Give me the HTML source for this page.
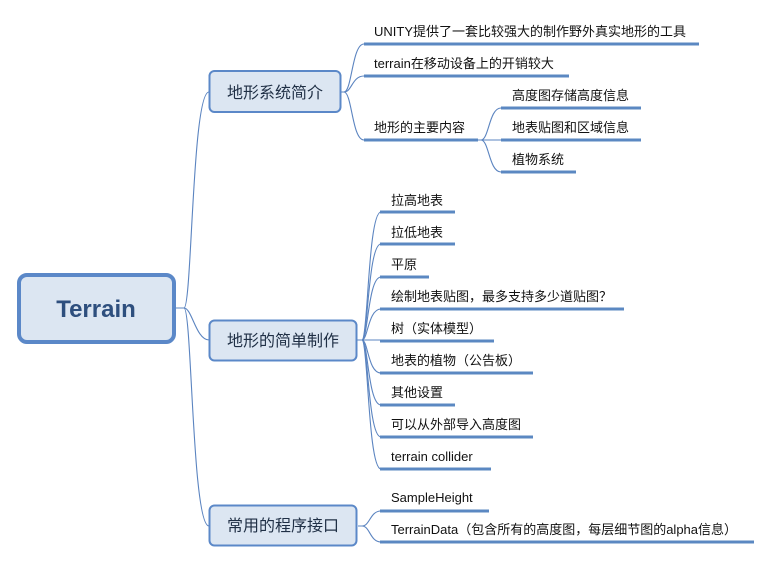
<!DOCTYPE html>
<html><head><meta charset="utf-8"><style>
html,body{margin:0;padding:0;background:#fff;}
svg{display:block;}
text{font-family:"Liberation Sans","Noto Sans CJK SC",sans-serif;fill:#111;}
</style></head><body>
<svg width="772" height="563" viewBox="0 0 772 563" xmlns="http://www.w3.org/2000/svg">
<g fill="none" stroke="#5b84c0" stroke-width="1.1">
<!-- root to branches -->
<path d="M176 308 H184 C192 308 192 92 209 92"/>
<path d="M176 308 H184 C192 308 196 340 209 340"/>
<path d="M176 308 H184 C192 308 192 526 209 526"/>
<!-- branch 1 -->
<path d="M341 92 H344 C352 92 352 44 364 44"/>
<path d="M341 92 H344 C352 92 352 76 364 76"/>
<path d="M341 92 H344 C352 92 352 140 364 140"/>
<path d="M478 140 H481 C489 140 489 108 501 108"/>
<path d="M478 140 H501"/>
<path d="M478 140 H481 C489 140 489 172 501 172"/>
<!-- branch 2 -->
<path d="M357 340 H362 C368 340 368 212 381 212"/>
<path d="M357 340 H362 C368 340 368 244 381 244"/>
<path d="M357 340 H362 C368 340 368 277 381 277"/>
<path d="M357 340 H362 C368 340 368 309 381 309"/>
<path d="M357 340 H381"/>
<path d="M357 340 H362 C368 340 368 373 381 373"/>
<path d="M357 340 H362 C368 340 368 405 381 405"/>
<path d="M357 340 H362 C368 340 368 437 381 437"/>
<path d="M357 340 H362 C368 340 368 469 381 469"/>
<!-- branch 3 -->
<path d="M358 526 H362 C370 526 370 511 381 511"/>
<path d="M358 526 H362 C370 526 370 542 381 542"/>
</g>
<g stroke="#5b88c2" stroke-width="3" fill="none">
<path d="M364 44 H699"/><path d="M364 76 H569"/><path d="M364 140 H478"/>
<path d="M501 108 H641"/><path d="M501 140 H641"/><path d="M501 172 H576"/>
<path d="M380 212 H455"/><path d="M380 244 H455"/><path d="M380 277 H429"/>
<path d="M380 309 H624"/><path d="M380 341 H494"/><path d="M380 373 H533"/>
<path d="M380 405 H455"/><path d="M380 437 H533"/><path d="M380 469 H491"/>
<path d="M380 511 H489"/><path d="M380 542 H754"/>
</g>
<!-- boxes -->
<rect x="19" y="275" width="155" height="67" rx="8" fill="#dce6f2" stroke="#5b88c8" stroke-width="4"/>
<text x="96" y="317" text-anchor="middle" font-size="24" font-weight="bold" style="fill:#2e4f7e">Terrain</text>
<rect x="209.5" y="71" width="131" height="41" rx="5" fill="#dce6f2" stroke="#5b88c8" stroke-width="2"/>
<text x="275" y="98" text-anchor="middle" font-size="16" style="fill:#1f2f45">地形系统简介</text>
<rect x="209.5" y="320.5" width="147" height="40" rx="5" fill="#dce6f2" stroke="#5b88c8" stroke-width="2"/>
<text x="283" y="346" text-anchor="middle" font-size="16" style="fill:#1f2f45">地形的简单制作</text>
<rect x="209.5" y="505.5" width="147" height="40" rx="5" fill="#dce6f2" stroke="#5b88c8" stroke-width="2"/>
<text x="283" y="531" text-anchor="middle" font-size="16" style="fill:#1f2f45">常用的程序接口</text>
<g font-size="13">
<text x="374" y="36">UNITY提供了一套比较强大的制作野外真实地形的工具</text>
<text x="374" y="68">terrain在移动设备上的开销较大</text>
<text x="374" y="132">地形的主要内容</text>
<text x="512" y="100">高度图存储高度信息</text>
<text x="512" y="132">地表贴图和区域信息</text>
<text x="512" y="164">植物系统</text>
<text x="391" y="205">拉高地表</text>
<text x="391" y="237">拉低地表</text>
<text x="391" y="269">平原</text>
<text x="391" y="301">绘制地表贴图，最多支持多少道贴图？</text>
<text x="391" y="333">树（实体模型）</text>
<text x="391" y="365">地表的植物（公告板）</text>
<text x="391" y="397">其他设置</text>
<text x="391" y="429">可以从外部导入高度图</text>
<text x="391" y="461">terrain collider</text>
<text x="391" y="502">SampleHeight</text>
<text x="391" y="534">TerrainData（包含所有的高度图，每层细节图的alpha信息）</text>
</g>
</svg>
</body></html>
